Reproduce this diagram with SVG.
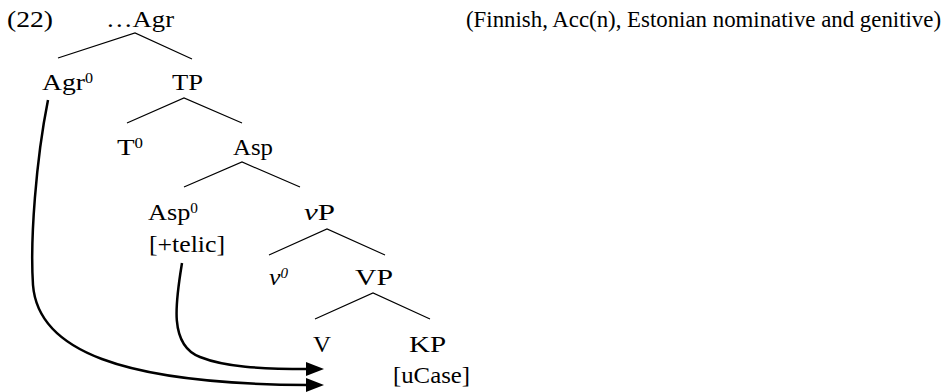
<svg xmlns="http://www.w3.org/2000/svg" width="951" height="392" viewBox="0 0 951 392">
<style>
text{font-family:"Liberation Serif","Times New Roman",serif;font-size:24px;fill:#000}
.title{font-size:23px}
.sup{font-size:14px}
.it{font-style:italic}
.edge{stroke:#000;stroke-width:1.2;fill:none}
.arr{stroke:#000;stroke-width:2.5;fill:none;marker-end:url(#ah)}
</style>
<defs>
<marker id="ah" markerUnits="userSpaceOnUse" markerWidth="20" markerHeight="16" refX="2" refY="8" orient="auto" viewBox="0 0 20 16">
<path d="M0,1 L18,8 L0,15 Z" fill="#000"/>
</marker>
</defs>
<g id="label"><text x="7" y="27" textLength="46" lengthAdjust="spacingAndGlyphs">(22)</text></g>
<g id="title"><text class="title" x="466" y="27" textLength="475" lengthAdjust="spacingAndGlyphs">(Finnish, Acc(n), Estonian nominative and genitive)</text></g>
<g id="n-agr"><text x="106" y="27" textLength="68" lengthAdjust="spacingAndGlyphs">…Agr</text></g>
<g id="n-agr0"><text x="42" y="90" textLength="51" lengthAdjust="spacingAndGlyphs">Agr<tspan class="sup" dy="-7">0</tspan></text></g>
<g id="n-tp"><text x="172" y="90" textLength="31" lengthAdjust="spacingAndGlyphs">TP</text></g>
<g id="n-t0"><text x="117" y="155" textLength="26" lengthAdjust="spacingAndGlyphs">T<tspan class="sup" dy="-7">0</tspan></text></g>
<g id="n-asp"><text x="233" y="155" textLength="40" lengthAdjust="spacingAndGlyphs">Asp</text></g>
<g id="n-asp0"><text x="148" y="220" textLength="50" lengthAdjust="spacingAndGlyphs">Asp<tspan class="sup" dy="-7">0</tspan></text><text x="149" y="252" textLength="76" lengthAdjust="spacingAndGlyphs">[+telic]</text></g>
<g id="n-vp-small"><text x="304" y="220" textLength="31" lengthAdjust="spacingAndGlyphs"><tspan class="it">v</tspan>P</text></g>
<g id="n-v0"><text x="269" y="285" class="it" textLength="19" lengthAdjust="spacingAndGlyphs">v<tspan class="sup" dy="-7">0</tspan></text></g>
<g id="n-vp"><text x="355" y="285" textLength="38" lengthAdjust="spacingAndGlyphs">VP</text></g>
<g id="n-v"><text x="313" y="352" textLength="18" lengthAdjust="spacingAndGlyphs">V</text></g>
<g id="n-kp"><text x="409" y="352" textLength="37" lengthAdjust="spacingAndGlyphs">KP</text><text x="393" y="383" textLength="77" lengthAdjust="spacingAndGlyphs">[uCase]</text></g>
<g id="connectors">
<path class="edge" d="M58,58 L135,33 L192,59"/>
<path class="edge" d="M127,123 L184,98 L242,123"/>
<path class="edge" d="M184,187 L242,162 L300,187"/>
<path class="edge" d="M269,255 L327,229 L385,255"/>
<path class="edge" d="M315,319 L373,293 L430,319"/>
<path class="arr" d="M48,100 C36,160 30,240 33,285 C38,350 120,384 308,385"/>
<path class="arr" d="M182,263 C176,300 168,345 200,357 C225,367 260,369 308,369"/>
</g>
</svg>
